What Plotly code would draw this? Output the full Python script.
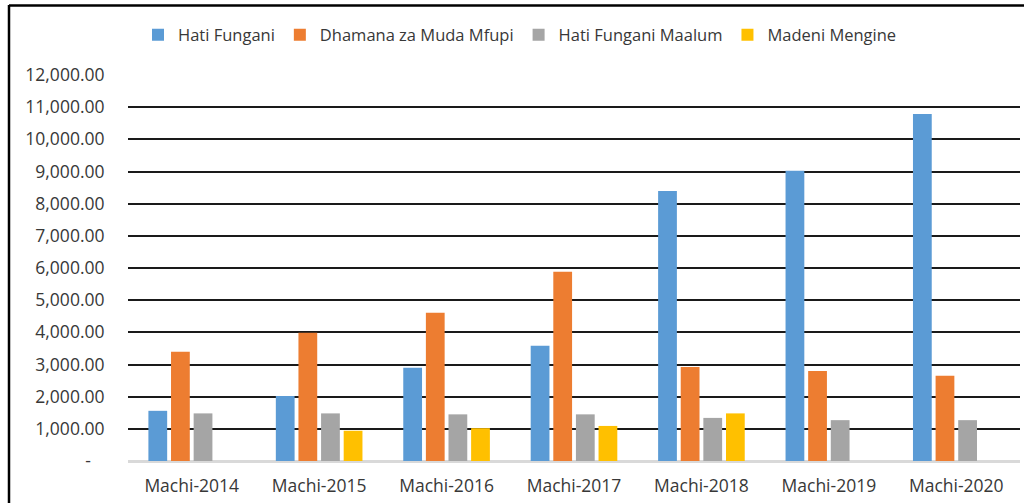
import plotly.graph_objects as go

categories = ["Machi-2014", "Machi-2015", "Machi-2016", "Machi-2017",
              "Machi-2018", "Machi-2019", "Machi-2020"]
hati_fungani = [1560, 2020, 2900, 3580, 8390, 9020, 10790]
dhamana = [3400, 3990, 4610, 5880, 2920, 2800, 2650]
hati_maalum = [1480, 1480, 1450, 1450, 1340, 1270, 1270]
madeni_mengine = [None, 940, 1020, 1090, 1480, None, None]

series_names = ["Hati Fungani", "Dhamana za Muda Mfupi", "Hati Fungani Maalum", "Madeni Mengine"]
series_values = [hati_fungani, dhamana, hati_maalum, madeni_mengine]
series_colors = ["#5B9BD5", "#ED7D31", "#A5A5A5", "#FFC000"]

tick_vals = [0, 1000, 2000, 3000, 4000, 5000, 6000, 7000, 8000, 9000, 10000, 11000, 12000]
tick_text = ["-\u00a0\u00a0\u00a0"] + [f"{v:,.2f}" for v in tick_vals[1:]]

FONT = "Open Sans, Liberation Sans, sans-serif"
TXT = "#383838"

fig = go.Figure()
for name, vals, col in zip(series_names, series_values, series_colors):
    fig.add_trace(go.Bar(x=categories, y=vals, name=name, marker_color=col,
                         marker_line_width=0))

W, H = 1024, 503
L, R, T, B = 128, 4, 75, 42
pw = W - L - R
ph = H - T - B

def px_x(px):
    return (px - L) / pw

def px_y(py):
    return (H - B - py) / ph

fig.update_layout(
    width=W, height=H,
    margin=dict(l=L, r=R, t=T, b=B),
    plot_bgcolor="white", paper_bgcolor="white",
    barmode="group", bargap=0.29, bargroupgap=0.17,
    font=dict(family=FONT, color=TXT, size=17.5),
    legend=dict(orientation="h", x=px_x(138), xanchor="left",
                y=px_y(35), yanchor="middle",
                font=dict(size=16.5, color=TXT, family=FONT),
                traceorder="normal"),
    xaxis=dict(showgrid=False, showline=True, linecolor="#D9D9D9", linewidth=2,
               ticks="outside", ticklen=8, tickcolor="rgba(0,0,0,0)",
               tickfont=dict(size=17.5, color=TXT)),
    yaxis=dict(range=[0, 12000], tickvals=tick_vals, ticktext=tick_text,
               showgrid=True, gridcolor="#1A1A1A", gridwidth=2,
               zeroline=True, zerolinecolor="#D9D9D9", zerolinewidth=2,
               ticks="outside", ticklen=19, tickcolor="rgba(0,0,0,0)",
               tickfont=dict(size=17.5, color=TXT)),
    shapes=[
        dict(type="line", xref="paper", yref="paper",
             x0=px_x(9), x1=px_x(1024), y0=px_y(5.5), y1=px_y(5.5),
             line=dict(color="black", width=2.5)),
        dict(type="line", xref="paper", yref="paper",
             x0=px_x(9), x1=px_x(9), y0=px_y(5), y1=px_y(503),
             line=dict(color="black", width=2.5)),
    ],
)

fig.write_html("out.html", config={"displayModeBar": False},
               post_script="document.body.style.margin='0';document.body.style.overflow='hidden';")
